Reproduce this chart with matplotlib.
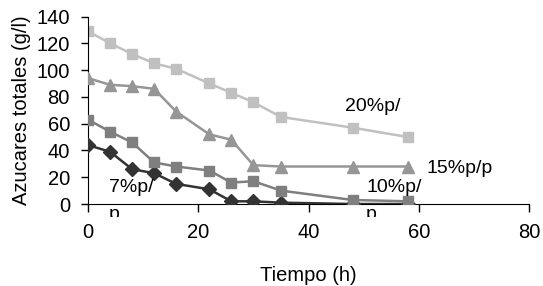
import matplotlib
matplotlib.use("Agg")
import matplotlib.pyplot as plt
from matplotlib.patches import Rectangle

plt.rcParams['font.family'] = ['Liberation Sans', 'DejaVu Sans']

tiempo = [0, 4, 8, 12, 16, 22, 26, 30, 35, 48, 58]
s20 = [129, 120, 112, 105, 101, 90, 83, 76, 65, 57, 50]
s15 = [94, 89, 88, 86, 69, 52, 48, 29, 28, 28, 28]
s10 = [63, 54, 46, 31, 28, 25, 16, 17, 10, 3, 2]
s7 = [44, 39, 26, 23, 15, 11, 2, 2, 1, 0, 0]

xticks = [0, 20, 40, 60, 80]
yticks = [0, 20, 40, 60, 80, 100, 120, 140]

W, H = 543, 286
fig = plt.figure(figsize=(W/100, H/100), dpi=100)
ax = fig.add_axes([88/W, 1-204/H, (529-88)/W, (204-16.5)/H])

ax.plot(tiempo, s20, color='#C0C0C0', lw=1.8, marker='s', ms=7.5, mec='#C0C0C0', zorder=2)
ax.plot(tiempo, s15, color='#969696', lw=1.8, marker='^', ms=8.5, mec='#969696', zorder=3)
ax.plot(tiempo, s7, color='#333333', lw=1.8, marker='D', ms=7, mec='#333333', zorder=4)
ax.plot(tiempo, s10, color='#7F7F7F', lw=1.8, marker='s', ms=7.5, mec='#7F7F7F', zorder=5)

ax.set_xlim(0, 80)
ax.set_ylim(0, 140)
ax.set_xticks(xticks)
ax.set_yticks(yticks)
ax.spines['top'].set_visible(False)
ax.spines['right'].set_visible(False)
ax.tick_params(direction='out', width=1, labelsize=14.5)
ax.tick_params(axis='x', length=6, pad=8)
ax.tick_params(axis='y', length=5, pad=8)
ax.set_xlabel('Tiempo (h)', fontsize=14.5, labelpad=17)
ax.set_ylabel('Azucares totales (g/l)', fontsize=14.5, labelpad=4)

fs = 14
def lab(x, y, s):
    fig.text(x/W, 1-y/H, s, fontsize=fs, va='baseline', ha='left', zorder=6)

lab(345, 111, '20%p/')
lab(426, 173, '15%p/p')
lab(366, 192, '10%p/')
lab(109, 192, '7%p/')

clip = Rectangle((0, 1-217/H), 1, 217/H, transform=fig.transFigure, visible=False)
fig.add_artist(clip)
for xp in (109, 366):
    t = fig.text(xp/W, 1-219/H, 'p', fontsize=fs, va='baseline', ha='left')
    t.set_clip_path(clip)

fig.savefig('out.png', dpi=100)
